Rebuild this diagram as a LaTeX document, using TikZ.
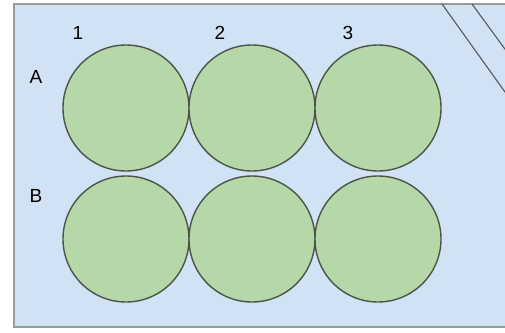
\documentclass[tikz,border=0pt]{standalone}
\usepackage{fontspec}
\setmainfont{Liberation Sans}
\definecolor{platebg}{HTML}{D0E2F3}
\definecolor{plateedge}{HTML}{9A9A9A}
\definecolor{wellfill}{HTML}{B6D7A8}
\definecolor{welledge}{HTML}{4A5448}
\definecolor{cutline}{HTML}{555A60}
\tikzset{
  well/.style={circle, draw=welledge, fill=wellfill, line width=1.4pt, minimum size=126pt, inner sep=0pt},
  lbl/.style={font=\fontsize{19}{19}\selectfont, text=black, inner sep=0pt},
}
\begin{document}
\begin{tikzpicture}[x=1pt,y=-1pt]
\useasboundingbox (0,0) rectangle (505,332);
\clip (0,0) rectangle (505,332);
\draw[fill=platebg, draw=plateedge, line width=2pt] (14,4) rectangle (520,327);
\coordinate (c1a) at (442,4);
\coordinate (c1b) at (510,99);
\coordinate (c2a) at (472,4);
\coordinate (c2b) at (510,56);
\draw[cutline, line width=1.1pt] (c1a) -- (c1b);
\draw[cutline, line width=1.1pt] (c2a) -- (c2b);
\node[well] (a1) at (126,108) {};
\node[well] (a2) at (252,108) {};
\node[well] (a3) at (378,108) {};
\node[well] (b1) at (126,239) {};
\node[well] (b2) at (252,239) {};
\node[well] (b3) at (378,239) {};
\node[lbl] (n1) at (78,33) {1};
\node[lbl] (n2) at (220,33) {2};
\node[lbl] (n3) at (348,33) {3};
\node[lbl] (la) at (36,77) {A};
\node[lbl] (lb) at (36,196) {B};
\end{tikzpicture}
\end{document}
